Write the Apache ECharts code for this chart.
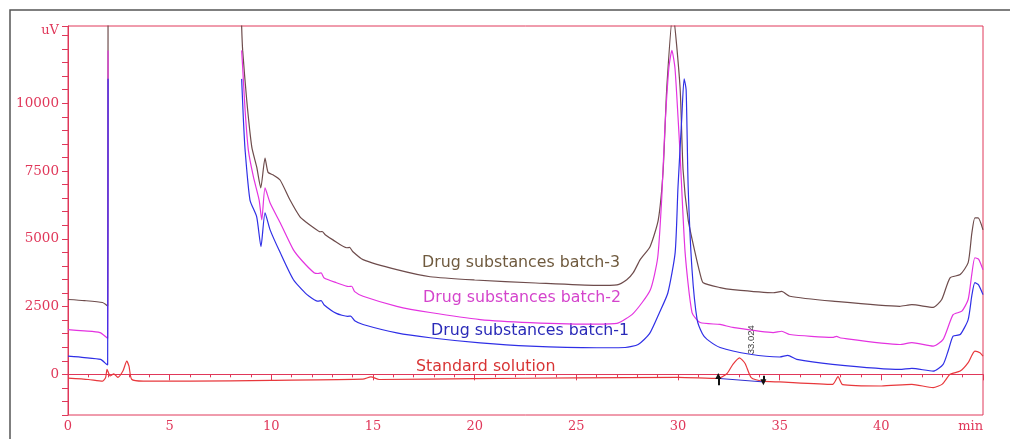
<!DOCTYPE html>
<html>
<head>
<meta charset="utf-8">
<script src="https://cdn.jsdelivr.net/npm/echarts@6/dist/echarts.min.js"></script>
<style>
  html, body { margin: 0; padding: 0; background: #fff; }
  #chart { width: 1010px; height: 439px; }
</style>
</head>
<body>
<div id="chart"></div>
<script>
// Retention time (min) vs detector response (uV); null marks an off-scale gap.
const batch3 = [
  [0, 2760], [0.8, 2720], [1.7, 2650], [1.9, 2550], [1.95, 2520], [1.97, 14000], [5, null],
  [8.5, 14000], [8.54, 12830], [8.59, 11950], [8.79, 10110], [9.04, 8380], [9.28, 7650],
  [9.48, 6875], [9.69, 7980], [9.84, 7450], [10.1, 7350], [10.43, 7170], [10.92, 6430],
  [11.41, 5810], [11.7, 5620], [12.1, 5400], [12.4, 5260], [12.5, 5270], [12.65, 5150],
  [13.03, 4960], [13.71, 4670], [13.85, 4680], [14.0, 4530], [14.51, 4230], [16.17, 3860],
  [17.81, 3600], [20.0, 3480], [23.0, 3370], [26.0, 3280], [27.0, 3300], [27.48, 3490],
  [27.8, 3750], [28.14, 4230], [28.63, 4720], [29.03, 5700], [29.27, 7540], [29.45, 10600],
  [29.75, 13300], [30.1, 10600], [30.25, 7540], [30.5, 5700], [30.84, 4490], [31.09, 3700],
  [31.24, 3380], [32.07, 3200], [32.7, 3125], [34.68, 3010], [35.1, 3060], [35.5, 2880],
  [37.6, 2700], [40.9, 2510], [41.5, 2570], [42.55, 2470], [42.97, 2760], [43.38, 3560],
  [43.88, 3680], [44.27, 4120], [44.45, 5200], [44.6, 5770], [44.76, 5770], [45, 5330]
];

const batch2 = [
  [0, 1650], [0.8, 1600], [1.57, 1540], [1.9, 1360], [1.95, 1330], [1.97, 11950], [5, null],
  [8.54, 11950], [8.59, 11320], [8.71, 9740], [8.87, 8270], [9.12, 7280], [9.4, 6430],
  [9.53, 5700], [9.69, 6875], [9.94, 6320], [10.43, 5600], [11.08, 4600], [11.5, 4200],
  [12.1, 3750], [12.3, 3720], [12.45, 3740], [12.6, 3550], [13.2, 3380], [13.8, 3240],
  [13.95, 3250], [14.1, 3050], [14.51, 2880], [16.17, 2510], [17.81, 2280], [20.27, 2020],
  [22.73, 1910], [26.0, 1850], [27.0, 1880], [27.8, 2250], [28.63, 3100], [29.0, 4300],
  [29.2, 6500], [29.35, 9000], [29.55, 11300], [29.7, 11950], [29.85, 11300], [30.0, 9500],
  [30.1, 8160], [30.35, 4490], [30.69, 2280], [31.09, 1910], [32.07, 1840], [32.7, 1730],
  [34.68, 1540], [35.1, 1590], [35.5, 1470], [37.6, 1360], [37.8, 1400], [38.0, 1340],
  [40.9, 1100], [41.5, 1170], [42.55, 1040], [43.04, 1290], [43.53, 2200], [43.96, 2330],
  [44.27, 2760], [44.45, 3700], [44.6, 4300], [44.78, 4250], [45, 3860]
];

const batch1 = [
  [0, 670], [0.8, 620], [1.6, 550], [1.9, 370], [1.95, 350], [1.97, 10900], [5, null],
  [8.54, 10900], [8.62, 9490], [8.71, 8270], [8.95, 6430], [9.28, 5810], [9.49, 4710],
  [9.69, 5960], [9.94, 5330], [10.43, 4500], [11.08, 3500], [11.74, 2950], [12.3, 2700],
  [12.45, 2720], [12.6, 2560], [13.2, 2250], [13.75, 2140], [13.9, 2150], [14.1, 1980],
  [14.51, 1840], [16.17, 1530], [17.81, 1350], [20.27, 1160], [22.73, 1040], [26.0, 980],
  [27.4, 990], [28.04, 1100], [28.6, 1500], [29.1, 2300], [29.5, 3000], [29.86, 4490],
  [30.0, 6910], [30.18, 9380], [30.3, 10900], [30.4, 10500], [30.5, 6910], [30.69, 3860],
  [30.94, 2020], [31.2, 1500], [31.43, 1290], [32.07, 990], [33.55, 740], [35.0, 640],
  [35.4, 700], [35.84, 550], [37.6, 370], [40.9, 180], [41.5, 220], [42.55, 120],
  [43.04, 370], [43.3, 900], [43.53, 1410], [43.88, 1470], [44.27, 2020], [44.45, 2900],
  [44.6, 3380], [44.78, 3300], [45, 2940]
];

const standardSolution = [
  [0, -140], [1.0, -190], [1.7, -250], [1.85, -120], [1.92, 180], [2.0, 40], [2.07, -60],
  [2.25, 20], [2.45, -110], [2.7, 120], [2.89, 490], [3.0, 300], [3.13, -180], [3.7, -250],
  [6, -250], [10, -220], [14.5, -180], [14.9, -90], [15.3, -190], [20, -160], [25, -130],
  [30, -110], [31.98, -150], [32.4, 20], [32.7, 370], [33.024, 610], [33.3, 400],
  [33.6, -120], [34.1, -250], [35, -280], [37.6, -370], [37.87, -85], [38.1, -380],
  [40, -430], [41.5, -370], [42.55, -490], [43.0, -360], [43.38, 0], [43.88, 120],
  [44.27, 430], [44.6, 860], [44.85, 800], [45, 670]
];

// Integrated peak of the standard: apex, and start / end of its baseline
const peakApex = [33.024, 610];
const baselineStart = [31.98, -150];
const baselineEnd = [34.2, -280];

const traceNames = ['Drug substances batch-3', 'Drug substances batch-2',
                    'Drug substances batch-1', 'Standard solution'];

const xMin = 0, xMax = 45, xStep = 5;
const yMin = -1500, yMax = 12850, yStep = 500;
const yLabelStep = 2500, yLabelTop = 10000;

const axisRed = '#e0385a';
const colors = ['#6e4c4c', '#e433e0', '#2f2fe6', '#e8383c'];
const textColors = ['#6f5a3e', '#d444cc', '#2a2ab8', '#d83434'];

const chart = echarts.init(document.getElementById('chart'), null, { renderer: 'canvas' });

function trace(name, data, color) {
  return {
    name, type: 'line', data, showSymbol: false, symbol: 'none',
    smooth: 0.2, connectNulls: false, clip: true,
    lineStyle: { color, width: 1.2 }, emphasis: { disabled: true }
  };
}

const stdSeries = trace(traceNames[3], standardSolution, colors[3]);
stdSeries.markPoint = {
  symbol: 'circle', symbolSize: 0, silent: true, animation: false,
  data: [{ coord: peakApex }],
  label: {
    show: true, rotate: 90, offset: [18, 12],
    formatter: () => peakApex[0].toFixed(3),
    fontFamily: 'Liberation Sans Narrow, Liberation Sans, sans-serif',
    fontSize: 9.5, color: '#444'
  }
};
stdSeries.markLine = {
  silent: true, animation: false, label: { show: false },
  data: [
    [{ coord: baselineStart, symbol: 'none', lineStyle: { color: '#3030d0', width: 1, type: 'solid' } },
     { coord: baselineEnd, symbol: 'none' }],
    [{ coord: [baselineStart[0], baselineStart[1] - 250], symbol: 'none', lineStyle: { color: '#111', width: 2, type: 'solid' } },
     { coord: [baselineStart[0], baselineStart[1] + 90], symbol: 'triangle', symbolSize: [6, 6] }],
    [{ coord: [baselineEnd[0], baselineEnd[1] + 230], symbol: 'none', lineStyle: { color: '#111', width: 2, type: 'solid' } },
     { coord: [baselineEnd[0], baselineEnd[1] - 10], symbol: 'triangle', symbolSize: [6, 6], symbolRotate: 180 }]
  ]
};

const labelFont = 'DejaVu Sans, Verdana, sans-serif';

chart.setOption({
  animation: false,
  backgroundColor: '#fff',
  grid: {
    left: 68, right: 27, top: 26, bottom: 24,
    show: true, borderColor: axisRed, borderWidth: 1, backgroundColor: 'transparent'
  },
  xAxis: {
    type: 'value', min: xMin, max: xMax, interval: xStep,
    axisLine: { show: true, lineStyle: { color: axisRed, width: 1 } },
    axisTick: { show: true, length: 6, lineStyle: { color: axisRed } },
    minorTick: { show: true, splitNumber: 5, length: 3, lineStyle: { color: axisRed } },
    splitLine: { show: false },
    axisLabel: {
      margin: 5, color: axisRed, fontFamily: 'DejaVu Serif, serif', fontSize: 13,
      alignMaxLabel: 'right',
      formatter: v => (v === xMax ? 'min' : String(v))
    }
  },
  yAxis: {
    type: 'value', min: yMin, max: yMax, interval: yStep,
    name: 'uV', nameLocation: 'end', nameGap: -5,
    nameTextStyle: {
      color: axisRed, fontFamily: 'DejaVu Serif, serif', fontSize: 13,
      align: 'right', verticalAlign: 'middle', padding: [0, 9, 0, 0]
    },
    axisLine: { show: true, lineStyle: { color: axisRed, width: 1 } },
    axisTick: { show: true, length: 6, lineStyle: { color: axisRed } },
    splitLine: { show: false },
    axisLabel: {
      margin: 9, color: axisRed, fontFamily: 'DejaVu Serif, serif', fontSize: 13.5,
      formatter: v => (v >= 0 && v <= yLabelTop && v % yLabelStep === 0 ? String(v) : '')
    }
  },
  graphic: [
    { type: 'rect', silent: true, z: -1,
      shape: { x: 10, y: 10, width: 1100, height: 600 },
      style: { fill: 'none', stroke: '#555', lineWidth: 1.5 } },
    { type: 'text', x: 422, y: 263, silent: true,
      style: { text: traceNames[0], fill: textColors[0], font: '15.8px ' + labelFont, textVerticalAlign: 'middle' } },
    { type: 'text', x: 423, y: 298, silent: true,
      style: { text: traceNames[1], fill: textColors[1], font: '15.8px ' + labelFont, textVerticalAlign: 'middle' } },
    { type: 'text', x: 431, y: 331, silent: true,
      style: { text: traceNames[2], fill: textColors[2], font: '15.8px ' + labelFont, textVerticalAlign: 'middle' } },
    { type: 'text', x: 416, y: 367, silent: true,
      style: { text: traceNames[3], fill: textColors[3], font: '15.8px ' + labelFont, textVerticalAlign: 'middle' } }
  ],
  series: [
    trace(traceNames[0], batch3, colors[0]),
    trace(traceNames[1], batch2, colors[1]),
    trace(traceNames[2], batch1, colors[2]),
    stdSeries
  ]
});
</script>
</body>
</html>
